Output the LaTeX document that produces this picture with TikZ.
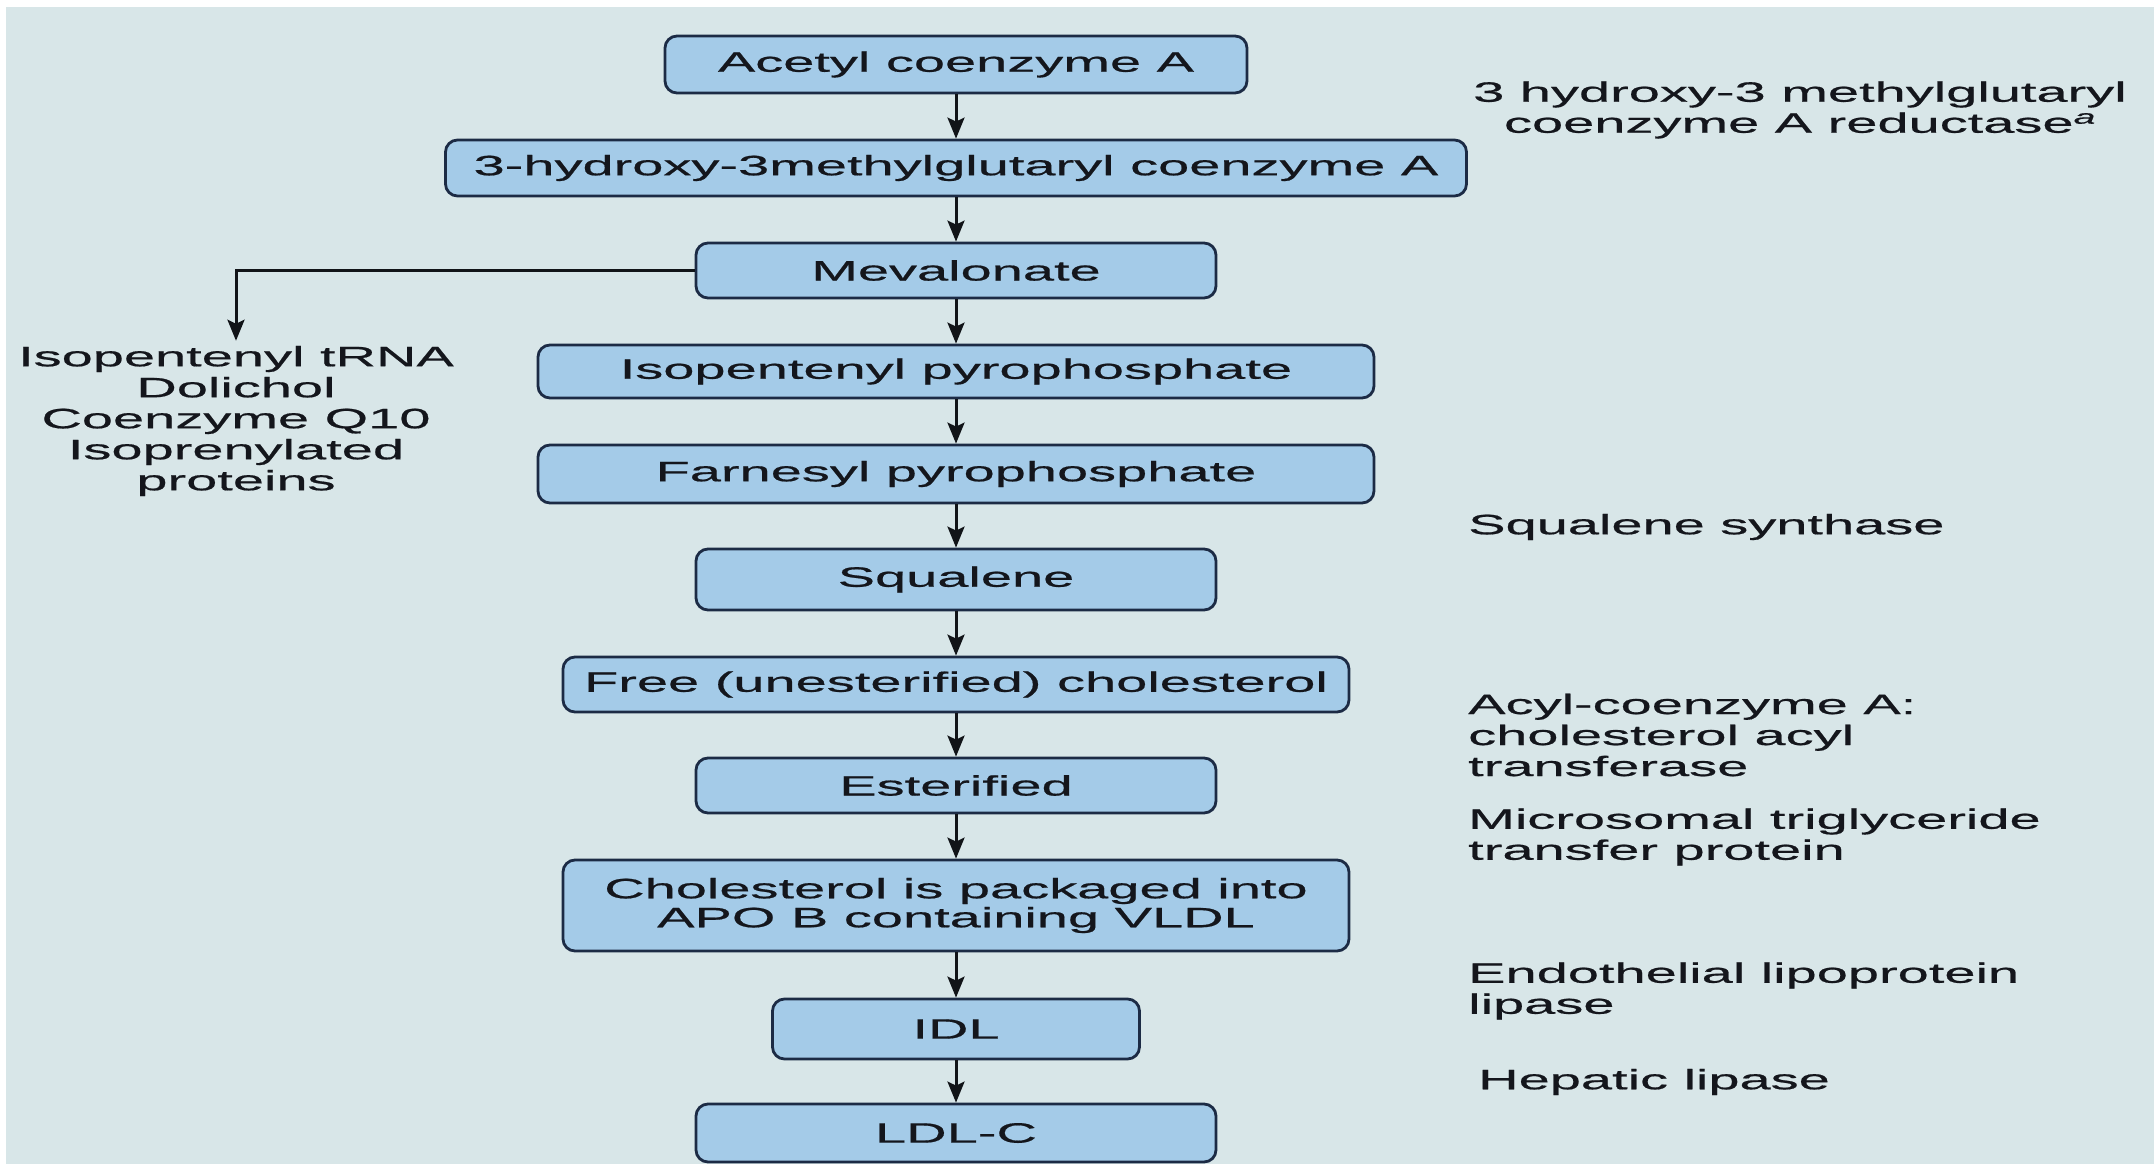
\documentclass[tikz,border=0pt]{standalone}
\usepackage{fontspec}
\setmainfont{Liberation Sans}[FakeStretch=2.0,FakeBold=0.6]
\usetikzlibrary{arrows.meta}
\definecolor{bg}{HTML}{D8E6E8}
\definecolor{boxfill}{HTML}{A4CBE8}
\definecolor{boxline}{HTML}{1C2B45}
\definecolor{ink}{HTML}{14161C}
\definecolor{arrowink}{HTML}{111418}

\begin{document}
\begin{tikzpicture}[x=1pt,y=-1pt,
  lbl/.style={font=\fontsize{28}{31}\selectfont, text=ink, inner sep=0pt},
  stage/.style={lbl, draw=boxline, fill=boxfill, line width=2.8pt,
    rounded corners=12pt, align=center},
  flow/.style={draw=arrowink, line width=3pt,
    -{Stealth[length=21pt,width=17pt,inset=4pt]}}
]
% page and panel
\useasboundingbox (0,0) rectangle (2154,1164);
\fill[white] (0,0) rectangle (2154,1164);
\fill[bg] (6,7) rectangle (2154,1164);

% pathway steps
\node[stage, minimum width=582pt, minimum height=57pt] (acoa) at (956,64.5) {Acetyl coenzyme A};
\node[stage, minimum width=1021pt, minimum height=56pt] (hmg) at (956,168) {3-hydroxy-3methylglutaryl coenzyme A};
\node[stage, minimum width=520pt, minimum height=55pt] (mev) at (956,270.5) {Mevalonate};
\node[stage, minimum width=836pt, minimum height=53pt] (ipp) at (956,371.5) {Isopentenyl pyrophosphate};
\node[stage, minimum width=836pt, minimum height=58pt] (fpp) at (956,474) {Farnesyl pyrophosphate};
\node[stage, minimum width=520pt, minimum height=61pt] (sq) at (956,579.5) {Squalene};
\node[stage, minimum width=786pt, minimum height=55pt] (free) at (956,684.5) {Free (unesterified) cholesterol};
\node[stage, minimum width=520pt, minimum height=55pt] (est) at (956,785.5) {Esterified};
\node[stage, minimum width=786pt, minimum height=91pt, font=\fontsize{28}{29}\selectfont] (vldl) at (956,905.5) {Cholesterol is packaged into\\APO B containing VLDL};
\node[stage, minimum width=367pt, minimum height=60pt] (idl) at (956,1029) {IDL};
\node[stage, minimum width=520pt, minimum height=58pt] (ldl) at (956,1133) {LDL-C};

% side products of mevalonate
\node[lbl, align=center, inner sep=5pt] (side) at (236,421) {Isopentenyl tRNA\\Dolichol\\Coenzyme Q10\\Isoprenylated\\proteins};

% enzymes
\node[lbl, align=center] (hmgr) at (1800,110) {3 hydroxy-3 methylglutaryl\\coenzyme A reductase\textsuperscript{\textit{a}}};
\node[lbl, anchor=west] (sqs) at (1468,527) {Squalene synthase};
\node[lbl, anchor=west, align=left] (acat) at (1468,735) {Acyl-coenzyme A:\\cholesterol acyl\\transferase};
\node[lbl, anchor=west, align=left] (mtp) at (1468,837) {Microsomal triglyceride\\transfer protein};
\node[lbl, anchor=west, align=left] (elpl) at (1468,991) {Endothelial lipoprotein\\lipase};
\node[lbl, anchor=west] (hl) at (1478,1082) {Hepatic lipase};

% connectors
\draw[flow] (acoa.south) -- (hmg.north);
\draw[flow] (hmg.south) -- (mev.north);
\draw[flow] (mev.south) -- (ipp.north);
\draw[flow] (ipp.south) -- (fpp.north);
\draw[flow] (fpp.south) -- (sq.north);
\draw[flow] (sq.south) -- (free.north);
\draw[flow] (free.south) -- (est.north);
\draw[flow] (est.south) -- (vldl.north);
\draw[flow] (vldl.south) -- (idl.north);
\draw[flow] (idl.south) -- (ldl.north);
\draw[flow] (mev.west) -| (side.north);
\end{tikzpicture}
\end{document}
